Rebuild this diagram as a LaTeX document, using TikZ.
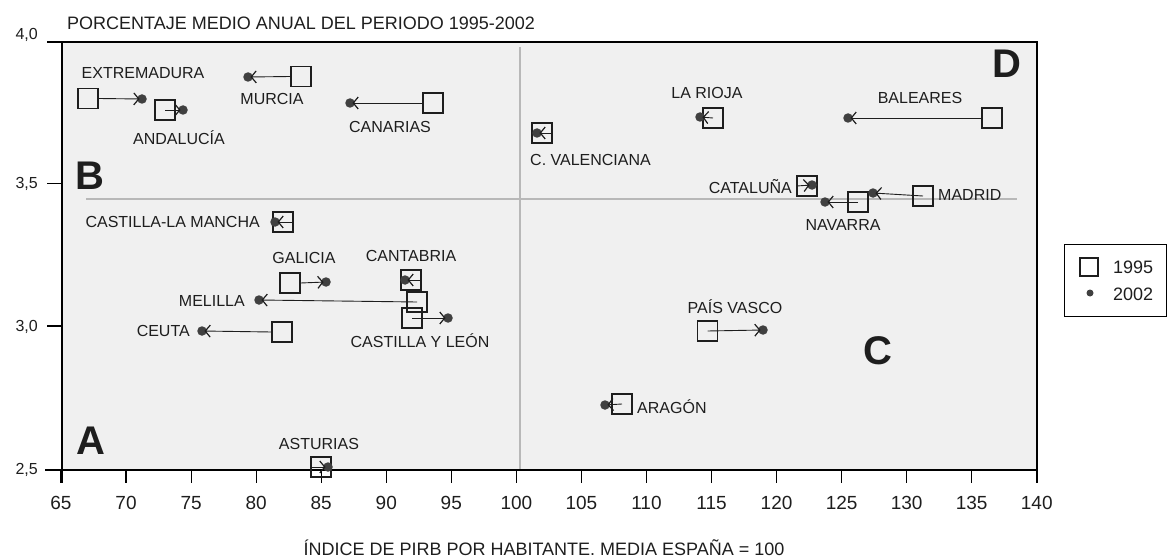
\documentclass[tikz,border=0pt]{standalone}
\usepackage{fontspec}
\setmainfont{Liberation Sans}
\usetikzlibrary{arrows.meta}
\definecolor{ink}{HTML}{1E1E1E}
\definecolor{plotbg}{HTML}{F0F0F0}
\definecolor{refline}{HTML}{B8B8B8}
\tikzset{
  sq/.style={draw=ink, line width=1.1pt, minimum size=20pt, inner sep=0pt, shape=rectangle},
  dt/.style={circle, fill=ink!85, minimum size=9.5pt, inner sep=0pt},
  arr/.style={draw=ink, line width=0.9pt, shorten >=-2.5pt, -{Straight Barb[length=5pt,width=12pt,line width=1.2pt]}},
  lbl/.style={font=\fontsize{16}{18}\selectfont, text=ink, inner sep=0pt},
  big/.style={font=\fontsize{40}{44}\selectfont\bfseries, text=ink, inner sep=0pt},
  xtl/.style={font=\fontsize{19}{21}\selectfont, text=ink, inner sep=0pt},
  ytl/.style={font=\fontsize{16}{18}\selectfont, text=ink, inner sep=0pt, anchor=east},
  ttl/.style={font=\fontsize{18}{20}\selectfont, text=ink, inner sep=0pt},
  axisline/.style={draw=black, line width=1.2pt},
  gridline/.style={draw=refline, line width=1.2pt},
}
\begin{document}
\begin{tikzpicture}[x=1pt,y=-1pt]
\useasboundingbox (0,0) rectangle (1167,559);
% plot area
\fill[plotbg] (62,42) rectangle (1037,470);
\draw[gridline] (520,47) -- (520,470);
\draw[gridline] (86,199) -- (1017,199);
\draw[axisline] (47,42) -- (1037,42) -- (1037,483);
\draw[axisline] (62,42) -- (62,483);
\draw[axisline] (45,470) -- (1037,470);
% y ticks
\foreach \yy in {183.5,326} \draw[axisline] (47,\yy) -- (62,\yy);
\node[ytl] (y40) at (38,35) {4,0};
\node[ytl] (y35) at (38,184) {3,5};
\node[ytl] (y30) at (38,327) {3,0};
\node[ytl] (y25) at (38,470) {2,5};
% x ticks
\foreach \v [count=\i] in {65,70,...,140} {
  \pgfmathsetmacro{\xx}{61+(\v-65)*13.01}
  \draw[axisline] (\xx,470) -- (\xx,483);
  \node[xtl] (xt\i) at (\xx,503) {\v};
}
% titles
\node[ttl, anchor=west] (title) at (67,23) {PORCENTAJE MEDIO ANUAL DEL PERIODO 1995-2002};
\node[ttl] (xtitle) at (544,548) {ÍNDICE DE PIRB POR HABITANTE. MEDIA ESPAÑA = 100};
% quadrant letters
\node[big] (qA) at (91,441) {A};
\node[big] (qB) at (90,176) {B};
\node[big] (qC) at (878,351) {C};
\node[big] (qD) at (1007,64) {D};
% squares (1995) and dots (2002)
\node[sq] (sExt) at (88,98.5) {};   \node[dt] (dExt) at (142,99) {};
\node[sq] (sAnd) at (165,110) {};   \node[dt] (dAnd) at (183,110) {};
\node[sq] (sMur) at (301,76.5) {};  \node[dt] (dMur) at (248,77) {};
\node[sq] (sCan) at (433,103) {};   \node[dt] (dCan) at (350,103) {};
\node[sq] (sCLM) at (283,222) {};   \node[dt] (dCLM) at (275,222) {};
\node[sq] (sGal) at (290,283) {};   \node[dt] (dGal) at (326,282) {};
\node[sq] (sCtb) at (411,280) {};   \node[dt] (dCtb) at (405,280) {};
\node[sq] (sMel) at (417,302) {};   \node[dt] (dMel) at (259,300) {};
\node[sq] (sCyL) at (412,318) {};   \node[dt] (dCyL) at (448,318) {};
\node[sq] (sCeu) at (282,332) {};   \node[dt] (dCeu) at (202,331) {};
\node[sq] (sAst) at (321,467) {};   \node[dt] (dAst) at (328,467) {};
\node[sq] (sVal) at (542,133) {};   \node[dt] (dVal) at (537,133) {};
\node[sq] (sRio) at (713,118) {};   \node[dt] (dRio) at (700,117) {};
\node[sq] (sBal) at (992,118) {};   \node[dt] (dBal) at (848,118) {};
\node[sq] (sCat) at (807,186) {};   \node[dt] (dCat) at (812,185) {};
\node[sq] (sNav) at (858,202) {};   \node[dt] (dNav) at (825,202) {};
\node[sq] (sMad) at (923,196) {};   \node[dt] (dMad) at (873,193) {};
\node[sq] (sPV)  at (707.5,331) {}; \node[dt] (dPV)  at (763,330) {};
\node[sq] (sAra) at (622,404) {};   \node[dt] (dAra) at (605,405) {};
% arrows 1995 -> 2002
\draw[arr] (sExt.east) -- (dExt);
\draw[arr] (sAnd.center) -- (dAnd);
\draw[arr] (sMur.west) -- (dMur);
\draw[arr] (sCan.west) -- (dCan);
\draw[arr] (sCLM.east) -- (dCLM);
\draw[arr] (sGal.east) -- (dGal);
\draw[arr] (sCtb.east) -- (dCtb);
\draw[arr] (sMel.center) -- (dMel);
\draw[arr] (sCyL.center) -- (dCyL);
\draw[arr] (sCeu.west) -- (dCeu);
\draw[arr] (sAst.west) -- (dAst);
\draw[arr] (sVal.east) -- (dVal);
\draw[arr] (sRio.center) -- (dRio);
\draw[arr] (sBal.west) -- (dBal);
\draw[arr] (sCat.west) -- (dCat);
\draw[arr] (sNav.center) -- (dNav);
\draw[arr] (sMad.center) -- (dMad);
\draw[arr] (sPV.center) -- (dPV);
\draw[arr] (sAra.center) -- (dAra);
% labels
\node[lbl] (lExt) at (143,73) {EXTREMADURA};
\node[lbl] (lAnd) at (179,138) {ANDALUCÍA};
\node[lbl] (lMur) at (272,99) {MURCIA};
\node[lbl] (lCan) at (390,127) {CANARIAS};
\node[lbl, anchor=east] (lCLM) at (260,222) {CASTILLA-LA MANCHA};
\node[lbl] (lGal) at (304,258) {GALICIA};
\node[lbl] (lCtb) at (411,256) {CANTABRIA};
\node[lbl, anchor=east] (lMel) at (245,301) {MELILLA};
\node[lbl] (lCyL) at (420,341) {CASTILLA Y LEÓN};
\node[lbl, anchor=east] (lCeu) at (190,331) {CEUTA};
\node[lbl] (lAst) at (319,444) {ASTURIAS};
\node[lbl, anchor=west] (lVal) at (530,160) {C. VALENCIANA};
\node[lbl] (lRio) at (707,93) {LA RIOJA};
\node[lbl] (lBal) at (920,98) {BALEARES};
\node[lbl, anchor=east] (lCat) at (792,187) {CATALUÑA};
\node[lbl] (lNav) at (843,225) {NAVARRA};
\node[lbl, anchor=west] (lMad) at (938,195) {MADRID};
\node[lbl] (lPV) at (735,307) {PAÍS VASCO};
\node[lbl, anchor=west] (lAra) at (637,407) {ARAGÓN};
% legend
\draw[draw=black, line width=1pt, fill=white] (1064,244) rectangle (1166,316);
\node[sq, minimum size=18pt] (legSq) at (1089,267) {};
\node[xtl, font=\fontsize{18}{20}\selectfont, anchor=west] (leg95) at (1113,267) {1995};
\node[dt, minimum size=7pt] (legDt) at (1090,293) {};
\node[xtl, font=\fontsize{18}{20}\selectfont, anchor=west] (leg02) at (1113,294) {2002};
\end{tikzpicture}
\end{document}
